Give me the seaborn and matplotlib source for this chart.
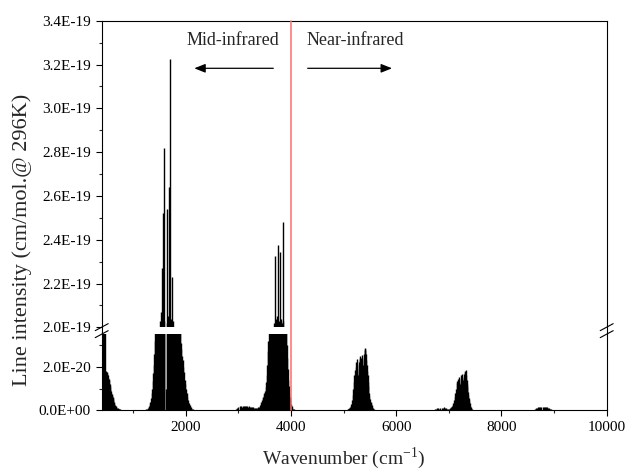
import numpy as np
import pandas as pd
import matplotlib
matplotlib.use("Agg")
import matplotlib.pyplot as plt
import matplotlib.ticker as mticker
from matplotlib.lines import Line2D
from matplotlib.transforms import blended_transform_factory
import seaborn as sns

# ---------------- data (wavenumber in cm-1, intensity in units of 1e-21 cm/mol.) -------------
rot_wn = [405, 412, 419, 426, 434, 442, 450, 456, 462, 470, 478, 486, 494, 502, 510, 518, 526,
          534, 542, 550, 558, 566, 574, 582, 590, 598, 606, 614, 622, 630, 640, 650, 660, 670,
          680, 692, 705, 720, 735, 750, 770, 790, 815, 840, 870, 900]
rot_int = [20, 30, 70, 22, 16, 19, 45, 60, 17, 15, 17.5, 18, 17, 17.5, 16, 15, 16,
           14.5, 14, 12, 11, 10, 9, 8, 7.5, 6.8, 6.2, 5.5, 4.6, 4.0, 3.2, 2.6, 2.1, 1.8,
           1.5, 1.1, 0.9, 0.7, 0.55, 0.45, 0.3, 0.22, 0.15, 0.1, 0.06, 0.04]

bend_wn = [1185, 1200, 1215, 1230, 1245, 1260, 1275, 1290, 1302, 1314, 1326, 1338, 1350, 1360,
           1370, 1380, 1388, 1396, 1404, 1412, 1424, 1436, 1448, 1460, 1472, 1484, 1496, 1506,
           1512, 1522, 1530, 1540, 1552, 1560, 1571, 1578, 1584, 1590, 1613, 1636, 1645, 1652,
           1660, 1667, 1674, 1685, 1698, 1710, 1718, 1725, 1734, 1742, 1750, 1760, 1772, 1784,
           1796, 1808, 1820, 1832, 1844, 1856, 1868, 1880, 1892, 1902, 1915, 1928, 1940, 1952,
           1965, 1978, 1990, 2003, 2017, 2031, 2045, 2060, 2075, 2090, 2105, 2120, 2136, 2155,
           2180, 2210]
bend_int = [0.1, 0.15, 0.2, 0.3, 0.45, 0.6, 0.9, 1.3, 1.9, 2.8, 4, 5.5, 8, 10,
            13.5, 17, 21, 26, 32, 40, 48, 58, 66, 75, 84, 96, 110, 128,
            203, 207, 160, 204, 227, 205, 252, 203, 282, 170, 10, 254, 202, 185,
            205, 190, 264, 203, 322.3, 204, 175, 202, 160, 223, 203, 150, 135, 120,
            105, 92, 80, 70, 62, 55, 48, 43, 38, 31, 28, 25, 23, 20,
            17.5, 14, 12, 10, 8, 6, 4.5, 3.3, 2.4, 1.7, 1.2, 0.8, 0.5, 0.3,
            0.15, 0.08]

stretch_wn = [2960, 2980, 3000, 3020, 3040, 3060, 3080, 3100, 3120, 3140, 3160, 3180, 3200, 3220,
              3240, 3260, 3280, 3300, 3320, 3340, 3360, 3380, 3395, 3410, 3422, 3434, 3446, 3458,
              3470, 3482, 3494, 3506, 3518, 3530, 3540, 3550, 3560, 3570, 3580, 3590, 3602, 3614,
              3626, 3638, 3650, 3662, 3672, 3680, 3688, 3694, 3705, 3712, 3720, 3728, 3735, 3745,
              3757, 3770, 3780, 3790, 3803, 3815, 3828, 3841, 3855, 3866, 3878, 3890, 3900, 3908,
              3916, 3925, 3935, 3945, 3955, 3965, 3975, 3985, 3995, 4010, 4025, 4040, 4060, 4085,
              4110, 4140]
stretch_int = [0.5, 1.0, 1.5, 1.8, 2.0, 1.7, 2.1, 1.9, 2.2, 1.8, 2.0, 1.6, 1.9, 1.5,
               1.6, 1.3, 1.5, 1.2, 1.1, 0.9, 1.0, 1.3, 1.7, 2.3, 3.0, 3.8, 4.8, 5.5,
               6.2, 7.0, 7.8, 8.8, 10.5, 13, 16, 21, 27, 32, 38, 45, 55, 65,
               78, 92, 110, 130, 150, 202, 170, 232.4, 204, 185, 203, 190, 205, 180,
               237.4, 203, 175, 234.4, 195, 204, 202, 248, 203, 120, 85, 60, 45, 36,
               30, 24, 19, 14, 11, 8, 6, 4.5, 3, 2, 1.2, 0.8, 0.5, 0.3,
               0.15, 0.08]

nir1_wn = [5060, 5075, 5090, 5105, 5120, 5135, 5148, 5160, 5172, 5183, 5194, 5205, 5215, 5225,
           5235, 5244, 5250, 5256, 5263, 5270, 5278, 5286, 5294, 5302, 5310, 5318, 5326, 5334,
           5342, 5350, 5358, 5366, 5374, 5382, 5390, 5398, 5406, 5414, 5422, 5430, 5438, 5446,
           5454, 5462, 5470, 5480, 5490, 5500, 5510, 5520, 5532, 5545, 5558, 5572, 5590, 5610]
nir1_int = [0.2, 0.4, 0.7, 1.0, 1.5, 2.2, 3.0, 4.5, 7, 10, 13, 16, 18.5, 20,
            22, 23.5, 21, 17, 14, 15, 16, 19, 22, 24, 25, 23, 21, 24,
            25.5, 23, 20, 19, 21, 24, 26, 27.5, 28, 28.5, 26, 23, 21, 18,
            16, 13, 11, 8, 6.5, 5, 4, 3.2, 2.3, 1.6, 1.0, 0.6, 0.3, 0.15]

nir2_wn = [6740, 6760, 6780, 6800, 6820, 6840, 6860, 6880, 6900, 6920, 6940, 6960, 6980, 7000,
           7015, 7030, 7040, 7055, 7070, 7084, 7096, 7108, 7122, 7134, 7148, 7160, 7172, 7186,
           7196, 7204, 7211, 7220, 7230, 7238, 7244, 7252, 7260, 7268, 7276, 7286, 7296, 7306,
           7314, 7320, 7328, 7336, 7344, 7350, 7358, 7366, 7374, 7382, 7392, 7402, 7412, 7420,
           7435, 7450, 7470]
nir2_int = [0.4, 0.7, 0.9, 1.0, 0.8, 1.1, 1.2, 1.0, 1.3, 1.1, 0.9, 0.7, 0.5, 0.6,
            0.8, 1.2, 1.5, 2.0, 2.6, 3.2, 4.5, 6, 7.8, 10, 12.4, 13.5, 14.5, 15.1,
            13, 11, 10.8, 12, 14.5, 16, 16.7, 15, 13, 12.4, 14, 15.5, 16.5, 17.5,
            18.2, 18.5, 16, 14, 12, 10.8, 8.5, 6.8, 5.5, 4.7, 3.2, 2, 1.3, 1.0,
            0.6, 0.3, 0.15]

nir3_wn = [8620, 8640, 8660, 8680, 8700, 8720, 8740, 8760, 8780, 8800, 8820, 8840, 8860, 8880,
           8900, 8920, 8940, 8960, 8980, 9000]
nir3_int = [0.3, 0.6, 0.9, 1.1, 1.3, 1.4, 1.5, 1.6, 1.7, 1.6, 1.7, 1.5, 1.3, 1.1,
            0.9, 0.7, 0.5, 0.35, 0.2, 0.1]

boundary_wn = 4000
x_ticks = [2000, 4000, 6000, 8000, 10000]
x_minor = [1000, 3000, 5000, 7000, 9000]
hi_yticks = [2.0e-19, 2.2e-19, 2.4e-19, 2.6e-19, 2.8e-19, 3.0e-19, 3.2e-19, 3.4e-19]
lo_yticks = [0.0, 2.0e-20]

# ---------------- build table ----------------
wn = rot_wn + bend_wn + stretch_wn + nir1_wn + nir2_wn + nir3_wn
inten = rot_int + bend_int + stretch_int + nir1_int + nir2_int + nir3_int
df = pd.DataFrame({"wn": wn, "S": np.array(inten) * 1e-21})

# ---------------- style ----------------
sns.set_theme(style="ticks")
plt.rcParams["font.family"] = ["Liberation Serif", "DejaVu Serif"]
plt.rcParams["mathtext.fontset"] = "custom"
plt.rcParams["mathtext.rm"] = "Liberation Serif"
plt.rcParams["axes.edgecolor"] = "black"
plt.rcParams["axes.linewidth"] = 0.8

W_PX, H_PX = 630, 471
fig = plt.figure(figsize=(W_PX / 100, H_PX / 100), dpi=100)
L = 101.7 / W_PX
W = 505 / W_PX
ax_lo = fig.add_axes([L, (H_PX - 410.3) / H_PX, W, 76.3 / H_PX])
ax_hi = fig.add_axes([L, (H_PX - 327.3) / H_PX, W, 306.6 / H_PX])
ax_hi.patch.set_alpha(0)
ax_lo.patch.set_alpha(0)

for ax in (ax_lo, ax_hi):
    ax.vlines(df["wn"], 0, df["S"], color="black", lw=1.0)
    ax.set_xlim(400, 10000)
    ax.grid(False)

ax_lo.set_ylim(0, 3.5e-20)
ax_hi.set_ylim(2.0e-19, 3.4e-19)

fmt = mticker.FuncFormatter(lambda v, p: f"{v:.1E}")
ax_lo.xaxis.set_major_locator(mticker.FixedLocator(x_ticks))
ax_lo.xaxis.set_minor_locator(mticker.FixedLocator(x_minor))
ax_lo.yaxis.set_major_locator(mticker.FixedLocator(lo_yticks))
ax_lo.yaxis.set_minor_locator(mticker.FixedLocator([1e-20, 3e-20]))
ax_lo.yaxis.set_major_formatter(fmt)
ax_hi.yaxis.set_major_locator(mticker.FixedLocator(hi_yticks))
ax_hi.yaxis.set_minor_locator(mticker.FixedLocator([2.1e-19, 2.3e-19, 2.5e-19, 2.7e-19, 2.9e-19, 3.1e-19, 3.3e-19]))
ax_hi.yaxis.set_major_formatter(fmt)

for ax in (ax_lo, ax_hi):
    ax.tick_params(which="major", direction="out", length=4, width=0.8, labelsize=11,
                   pad=3.8, colors="black", top=False, right=False)
    ax.tick_params(which="minor", direction="out", length=2.4, width=0.8, top=False, right=False)
    for s in ax.spines.values():
        s.set_color("black")
        s.set_linewidth(0.8)

ax_lo.tick_params(axis="x", pad=4)
ax_lo.spines["top"].set_visible(False)
ax_hi.spines["bottom"].set_visible(False)
ax_hi.tick_params(axis="x", which="both", bottom=False, labelbottom=False)

# spine continuation through the break + break marks
lo_top = ax_lo.get_position().y1
hi_bot = ax_hi.get_position().y0
gap_mid = (lo_top + hi_bot) / 2
for xf in (L, L + W):
    fig.add_artist(Line2D([xf, xf], [lo_top, hi_bot], transform=fig.transFigure,
                          color="black", lw=0.8))
    for yc in (gap_mid - 3.5 / H_PX, gap_mid + 3.5 / H_PX):
        fig.add_artist(Line2D([xf - 6.5 / W_PX, xf + 6.5 / W_PX],
                              [yc - 3.5 / H_PX, yc + 3.5 / H_PX],
                              transform=fig.transFigure, color="black", lw=0.8))

# red boundary line spanning both panels
tr = blended_transform_factory(ax_lo.transData, fig.transFigure)
fig.add_artist(Line2D([boundary_wn, boundary_wn],
                      [ax_lo.get_position().y0, ax_hi.get_position().y1],
                      transform=tr, color="#FF6E6E", lw=1.1))

# annotations
fig.text(233.3 / W_PX, 1 - 45 / H_PX, "Mid-infrared", ha="center", va="baseline", fontsize=13)
fig.text(355.5 / W_PX, 1 - 45 / H_PX, "Near-infrared", ha="center", va="baseline", fontsize=13)
ay = 1 - 68.3 / H_PX
arrow_kw = dict(arrowstyle="-|>,head_length=0.55,head_width=0.22", mutation_scale=12,
                color="black", lw=0.9, shrinkA=0, shrinkB=0)
fig.add_artist(matplotlib.patches.FancyArrowPatch((273.3 / W_PX, ay), (194.3 / W_PX, ay),
                                                  transform=fig.transFigure, **arrow_kw))
fig.add_artist(matplotlib.patches.FancyArrowPatch((307.7 / W_PX, ay), (392 / W_PX, ay),
                                                  transform=fig.transFigure, **arrow_kw))

fig.text(22 / W_PX, 1 - 239.5 / H_PX, "Line intensity (cm/mol.@ 296K)", rotation=90,
         ha="center", va="center", fontsize=16)
fig.text(343.5 / W_PX, 7 / H_PX, r"Wavenumber (cm$^{\mathregular{-1}}$)", ha="center",
         va="baseline", fontsize=14)

fig.savefig("out.png", dpi=100)
